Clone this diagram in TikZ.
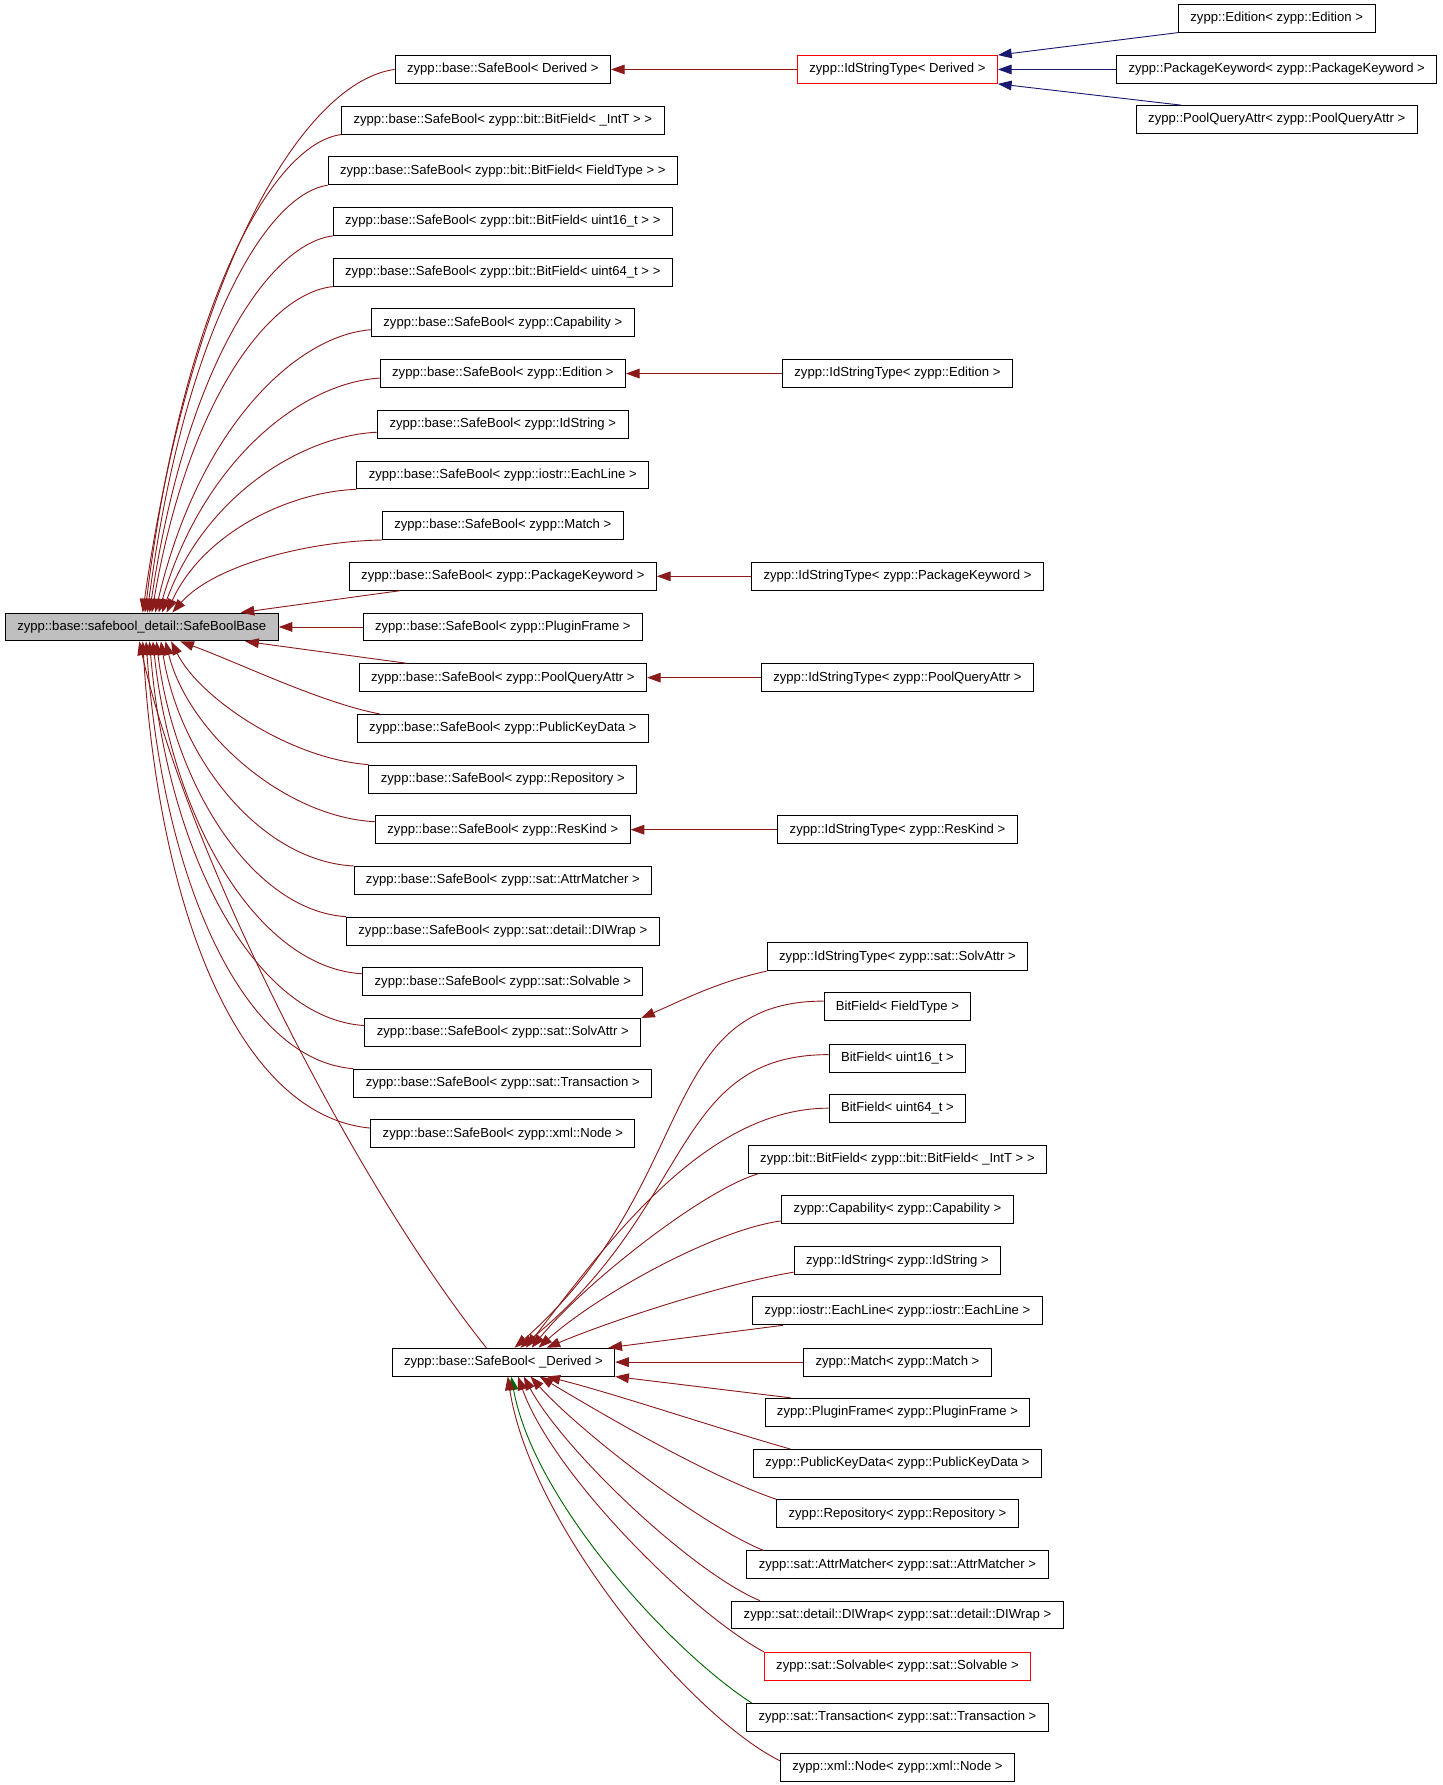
\documentclass[tikz,border=0pt]{standalone}
\usepackage{fontspec}
\setmainfont{Liberation Sans}
\usetikzlibrary{arrows.meta}
\definecolor{firebrick}{HTML}{8B1A1A}
\definecolor{midnight}{HTML}{191970}
\definecolor{darkgrn}{HTML}{006400}
\definecolor{boxgrey}{HTML}{BFBFBF}
\begin{document}
\begin{tikzpicture}[x=1pt, y=-1pt,
    cls/.style={draw=black, fill=white, line width=0.8pt, inner xsep=10.5pt, inner ysep=0pt, minimum height=24.5pt, font=\fontsize{11.5}{13}\selectfont},
    clsred/.style={cls, draw=red},
    priv/.style={draw=firebrick, line width=0.8pt, -{Triangle[length=12pt,width=8.5pt]}},
    pub/.style={priv, draw=midnight},
    prot/.style={priv, draw=darkgrn}]
    \useasboundingbox (0,0) rectangle (1267,1567.3);

    \node[cls, fill=boxgrey] at (124.5,550.5) (Base) {zypp::base::safebool\_detail::SafeBoolBase};

    \node[cls] at (441.5,61) (SBDerived) {zypp::base::SafeBool< Derived >};
    \node[cls] at (441.5,105.5) (SBIntT) {zypp::base::SafeBool< zypp::bit::BitField< \_IntT > >};
    \node[cls] at (441.5,150) (SBFieldType) {zypp::base::SafeBool< zypp::bit::BitField< FieldType > >};
    \node[cls] at (441.5,194.5) (SBUint16) {zypp::base::SafeBool< zypp::bit::BitField< uint16\_t > >};
    \node[cls] at (441.5,239) (SBUint64) {zypp::base::SafeBool< zypp::bit::BitField< uint64\_t > >};
    \node[cls] at (441.5,283.5) (SBCapability) {zypp::base::SafeBool< zypp::Capability >};
    \node[cls] at (441.5,328) (SBEdition) {zypp::base::SafeBool< zypp::Edition >};
    \node[cls] at (441.5,372.5) (SBIdString) {zypp::base::SafeBool< zypp::IdString >};
    \node[cls] at (441.5,417) (SBEachLine) {zypp::base::SafeBool< zypp::iostr::EachLine >};
    \node[cls] at (441.5,461.5) (SBMatch) {zypp::base::SafeBool< zypp::Match >};
    \node[cls] at (441.5,506) (SBPkgKeyword) {zypp::base::SafeBool< zypp::PackageKeyword >};
    \node[cls] at (441.5,550.5) (SBPluginFrame) {zypp::base::SafeBool< zypp::PluginFrame >};
    \node[cls] at (441.5,595) (SBPoolQuery) {zypp::base::SafeBool< zypp::PoolQueryAttr >};
    \node[cls] at (441.5,639.5) (SBPubKey) {zypp::base::SafeBool< zypp::PublicKeyData >};
    \node[cls] at (441.5,684) (SBRepo) {zypp::base::SafeBool< zypp::Repository >};
    \node[cls] at (441.5,728.5) (SBResKind) {zypp::base::SafeBool< zypp::ResKind >};
    \node[cls] at (441.5,773) (SBAttrMatcher) {zypp::base::SafeBool< zypp::sat::AttrMatcher >};
    \node[cls] at (441.5,817.5) (SBDIWrap) {zypp::base::SafeBool< zypp::sat::detail::DIWrap >};
    \node[cls] at (441.5,862) (SBSolvable) {zypp::base::SafeBool< zypp::sat::Solvable >};
    \node[cls] at (441.5,906.5) (SBSolvAttr) {zypp::base::SafeBool< zypp::sat::SolvAttr >};
    \node[cls] at (441.5,951) (SBTransaction) {zypp::base::SafeBool< zypp::sat::Transaction >};
    \node[cls] at (441.5,995.5) (SBXmlNode) {zypp::base::SafeBool< zypp::xml::Node >};
    \node[cls] at (442,1196) (SBTemplate) {zypp::base::SafeBool< \_Derived >};

    \node[clsred] at (788,61) (ISTDerived) {zypp::IdStringType< Derived >};
    \node[cls] at (788,328) (ISTEdition) {zypp::IdStringType< zypp::Edition >};
    \node[cls] at (788,506) (ISTPkgKeyword) {zypp::IdStringType< zypp::PackageKeyword >};
    \node[cls] at (788,595) (ISTPoolQuery) {zypp::IdStringType< zypp::PoolQueryAttr >};
    \node[cls] at (788,728.5) (ISTResKind) {zypp::IdStringType< zypp::ResKind >};
    \node[cls] at (788,840) (ISTSolvAttr) {zypp::IdStringType< zypp::sat::SolvAttr >};
    \node[cls] at (788,884) (BFFieldType) {BitField< FieldType >};
    \node[cls] at (788,929) (BFUint16) {BitField< uint16\_t >};
    \node[cls] at (788,973) (BFUint64) {BitField< uint64\_t >};
    \node[cls] at (788,1018) (BitBitField) {zypp::bit::BitField< zypp::bit::BitField< \_IntT > >};
    \node[cls] at (788,1062) (Capability) {zypp::Capability< zypp::Capability >};
    \node[cls] at (788,1107) (IdString) {zypp::IdString< zypp::IdString >};
    \node[cls] at (788,1151) (EachLine) {zypp::iostr::EachLine< zypp::iostr::EachLine >};
    \node[cls] at (788,1196) (Match) {zypp::Match< zypp::Match >};
    \node[cls] at (788,1240) (PluginFrame) {zypp::PluginFrame< zypp::PluginFrame >};
    \node[cls] at (788,1285) (PubKey) {zypp::PublicKeyData< zypp::PublicKeyData >};
    \node[cls] at (788,1329) (Repo) {zypp::Repository< zypp::Repository >};
    \node[cls] at (788,1374) (AttrMatcher) {zypp::sat::AttrMatcher< zypp::sat::AttrMatcher >};
    \node[cls] at (788,1418) (DIWrap) {zypp::sat::detail::DIWrap< zypp::sat::detail::DIWrap >};
    \node[clsred] at (788,1463) (Solvable) {zypp::sat::Solvable< zypp::sat::Solvable >};
    \node[cls] at (788,1508) (Transaction) {zypp::sat::Transaction< zypp::sat::Transaction >};
    \node[cls] at (788,1552) (XmlNode) {zypp::xml::Node< zypp::xml::Node >};

    \node[cls] at (1121,16) (Edition) {zypp::Edition< zypp::Edition >};
    \node[cls] at (1121,61) (PkgKeyword) {zypp::PackageKeyword< zypp::PackageKeyword >};
    \node[cls] at (1121,105) (PoolQuery) {zypp::PoolQueryAttr< zypp::PoolQueryAttr >};

    \draw[priv] (SBDerived.west) .. controls +(-77,10) and +(44,-310) .. ([xshift=121pt]Base.north west);
    \draw[priv] (SBIntT.south west) .. controls +(-60,8) and +(34,-274) .. ([xshift=123pt]Base.north west);
    \draw[priv] (SBFieldType.south west) .. controls +(-55,8) and +(32,-244) .. ([xshift=125pt]Base.north west);
    \draw[priv] (SBUint16.south west) .. controls +(-56,7) and +(32,-216) .. ([xshift=127pt]Base.north west);
    \draw[priv] (SBUint64.south west) .. controls +(-56,6) and +(32,-187) .. ([xshift=129pt]Base.north west);
    \draw[priv] ([yshift=-6pt]SBCapability.west) .. controls +(-66,5) and +(38,-162) .. ([xshift=132pt]Base.north west);
    \draw[priv] ([yshift=-4pt]SBEdition.west) .. controls +(-68,4) and +(39,-134) .. ([xshift=135pt]Base.north west);
    \draw[priv] ([yshift=-7pt]SBIdString.west) .. controls +(-66,3) and +(38,-103) .. ([xshift=138pt]Base.north west);
    \draw[priv] (SBEachLine.south west) .. controls +(-58,2) and +(33,-71) .. ([xshift=142pt]Base.north west);
    \draw[priv] (SBMatch.south west) .. controls +(-64,1) and +(37,-42) .. ([xshift=147pt]Base.north west);
    \draw[priv] ([xshift=45pt]SBPkgKeyword.south west) -- ([xshift=207pt]Base.north west);
    \draw[priv] (SBPluginFrame.west) -- (Base.east);
    \draw[priv] ([xshift=42pt]SBPoolQuery.north west) -- ([xshift=211pt]Base.south west);
    \draw[priv] ([xshift=20pt]SBPubKey.north west) .. controls +(-52,-10) and +(52,19) .. ([xshift=154pt]Base.south west);
    \draw[priv] (SBRepo.north west) .. controls +(-69,-5) and +(25,50) .. ([xshift=146pt]Base.south west);
    \draw[priv] ([yshift=7pt]SBResKind.west) .. controls +(-80,-4) and +(20,80) .. ([xshift=141pt]Base.south west);
    \draw[priv] (SBAttrMatcher.north west) .. controls +(-80,-4) and +(17,105) .. ([xshift=137pt]Base.south west);
    \draw[priv] (SBDIWrap.north west) .. controls +(-80,-5) and +(16,130) .. ([xshift=133pt]Base.south west);
    \draw[priv] ([yshift=7pt]SBSolvable.west) .. controls +(-90,-5) and +(17,160) .. ([xshift=130pt]Base.south west);
    \draw[priv] ([yshift=6pt]SBSolvAttr.west) .. controls +(-95,-6) and +(16,190) .. ([xshift=127pt]Base.south west);
    \draw[priv] (SBTransaction.north west) .. controls +(-95,-7) and +(15,215) .. ([xshift=124pt]Base.south west);
    \draw[priv] ([yshift=5pt]SBXmlNode.west) .. controls +(-110,-10) and +(15,250) .. ([xshift=121pt]Base.south west);
    \draw[priv] ([xshift=-15pt]SBTemplate.north) .. controls +(-120,-150) and +(40,180) .. ([xshift=118pt]Base.south west);

    \draw[priv] (ISTDerived.west) -- (SBDerived.east);
    \draw[pub] (Edition.south west) -- (ISTDerived.north east);
    \draw[pub] (PkgKeyword.west) -- (ISTDerived.east);
    \draw[pub] ([xshift=40pt]PoolQuery.north west) -- (ISTDerived.south east);
    \draw[priv] (ISTEdition.west) -- (SBEdition.east);
    \draw[priv] (ISTPkgKeyword.west) -- (SBPkgKeyword.east);
    \draw[priv] (ISTPoolQuery.west) -- (SBPoolQuery.east);
    \draw[priv] (ISTResKind.west) -- (SBResKind.east);
    \draw[priv] (ISTSolvAttr.south west) .. controls +(-45,10) and +(35,-15) .. (SBSolvAttr.north east);

    \draw[prot] ([xshift=5pt]Transaction.north west) .. controls +(-70,-45) and +(20,110) .. ([xshift=105pt]SBTemplate.south west);
    \draw[priv] ([yshift=5pt]BFFieldType.west) .. controls +(-148,0) and +(163,-144) .. ([xshift=108pt]SBTemplate.north west);
    \draw[priv] ([yshift=3pt]BFUint16.west) .. controls +(-138,0) and +(153,-124) .. ([xshift=113pt]SBTemplate.north west);
    \draw[priv] (BFUint64.west) .. controls +(-110,0) and +(70,-90) .. ([xshift=118pt]SBTemplate.north west);
    \draw[priv] ([xshift=9pt]BitBitField.south west) .. controls +(-50,15) and +(45,-55) .. ([xshift=123pt]SBTemplate.north west);
    \draw[priv] ([yshift=-10pt]Capability.west) .. controls +(-60,8) and +(50,-45) .. ([xshift=129pt]SBTemplate.north west);
    \draw[priv] ([yshift=-10pt]IdString.west) .. controls +(-60,10) and +(60,-25) .. ([xshift=136pt]SBTemplate.north west);
    \draw[priv] ([xshift=27pt]EachLine.south west) -- ([xshift=-6pt]SBTemplate.north east);
    \draw[priv] (Match.west) -- (SBTemplate.east);
    \draw[priv] ([xshift=23pt]PluginFrame.north west) -- (SBTemplate.south east);
    \draw[priv] ([xshift=33pt]PubKey.north west) .. controls +(-70,-20) and +(60,15) .. ([xshift=136pt]SBTemplate.south west);
    \draw[priv] (Repo.north west) .. controls +(-60,-20) and +(50,30) .. ([xshift=130pt]SBTemplate.south west);
    \draw[priv] ([xshift=15pt]AttrMatcher.north west) .. controls +(-60,-25) and +(40,45) .. ([xshift=122pt]SBTemplate.south west);
    \draw[priv] ([xshift=25pt]DIWrap.north west) .. controls +(-60,-25) and +(35,65) .. ([xshift=116pt]SBTemplate.south west);
    \draw[priv] (Solvable.north west) .. controls +(-65,-35) and +(30,85) .. ([xshift=111pt]SBTemplate.south west);
    \draw[priv] ([yshift=6pt]XmlNode.west) .. controls +(-80,-40) and +(20,130) .. ([xshift=102pt]SBTemplate.south west);
\end{tikzpicture}
\end{document}
